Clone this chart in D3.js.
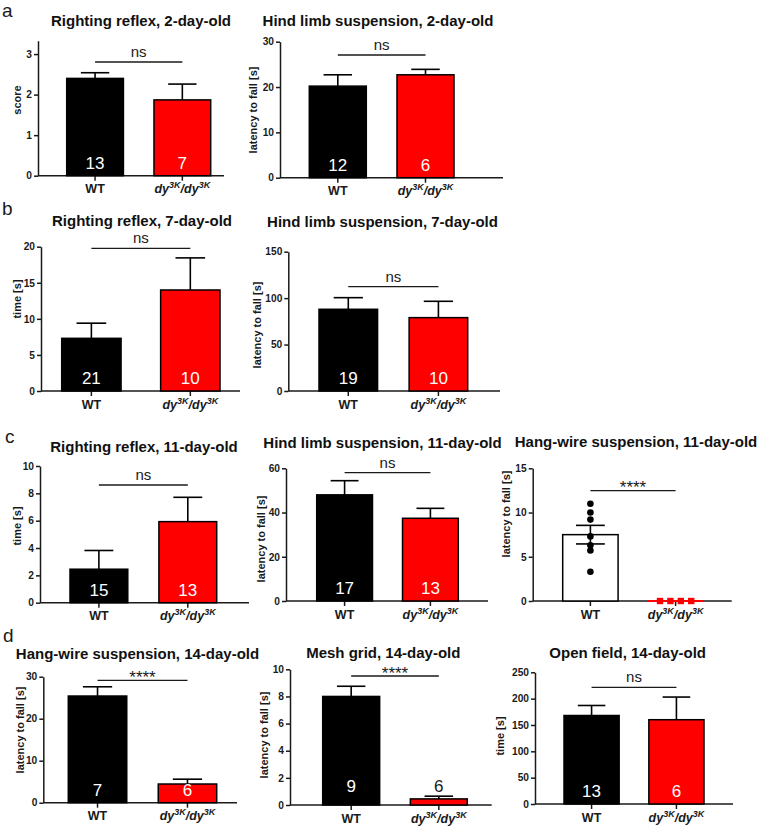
<!DOCTYPE html>
<html>
<head>
<meta charset="utf-8">
<script src="https://cdn.jsdelivr.net/npm/d3@7"></script>
<style>
  html, body { margin: 0; padding: 0; background: #fff; }
  svg { display: block; font-family: "Liberation Sans", Arial, sans-serif; }
</style>
</head>
<body>
<svg id="chart" width="758" height="828"></svg>
<script>
// ---------------- DATA ----------------
const categories = ["WT", "dy3K/dy3K"];
const titles = [
  "Righting reflex, 2-day-old",
  "Hind limb suspension, 2-day-old",
  "Righting reflex, 7-day-old",
  "Hind limb suspension, 7-day-old",
  "Righting reflex, 11-day-old",
  "Hind limb suspension, 11-day-old",
  "Hang-wire suspension, 11-day-old",
  "Hang-wire suspension, 14-day-old",
  "Mesh grid, 14-day-old",
  "Open field, 14-day-old"
];
const yLabels = ["score", "latency to fall [s]", "time [s]", "latency to fall [s]", "time [s]",
  "latency to fall [s]", "latency to fall [s]", "latency to fall [s]", "latency to fall [s]", "time [s]"];
const yMaxes = [3.33, 30, 20, 150, 10, 60, 15, 30, 10, 250];
const yTicks = [
  [0, 1, 2, 3], [0, 10, 20, 30], [0, 5, 10, 15, 20], [0, 50, 100, 150], [0, 2, 4, 6, 8, 10],
  [0, 20, 40, 60], [0, 5, 10, 15], [0, 10, 20, 30], [0, 2, 4, 6, 8, 10], [0, 50, 100, 150, 200, 250]
];
const wtMean = [2.4, 20.2, 7.3, 88, 2.45, 48, 7.5, 25.4, 8.0, 168];
const wtSem  = [0.14, 2.5, 2.1, 12.5, 1.37, 6.4, 1.05, 2.2, 0.75, 19];
const dyMean = [1.87, 22.7, 14.0, 79, 5.93, 37.4, 0, 4.45, 0.45, 160];
const dySem  = [0.39, 1.2, 4.45, 17.6, 1.78, 4.5, 0, 1.15, 0.2, 43];
const wtN = [13, 12, 21, 19, 15, 17, null, 7, 9, 13];
const dyN = [7, 6, 10, 10, 13, 13, null, 6, 6, 6];
const sigLabels = ["ns", "ns", "ns", "ns", "ns", "ns", "****", "****", "****", "ns"];
const hangWireWT11 = [11, 10, 9.2, 7.3, 6.3, 5.7, 3.3];
const hangWireDy11 = [0, 0, 0, 0];
const panelLetters = ["a", "b", "c", "d"];

// ---------------- LAYOUT ----------------
const layout = [
  {ax: 38,    axEnd: 224,   y0: 175.7, yTop: 40.7,  band: [66.7, 210.7], tx: 141,   ty: 26,  lx: 20.5,  ly: 100, sigY: 62},
  {ax: 280,   axEnd: 503,   y0: 177.7, yTop: 41.7,  band: [309.3, 454],  tx: 378,   ty: 26,  lx: 256.5, ly: 110, sigY: 55},
  {ax: 41,    axEnd: 240,   y0: 391,   yTop: 246.7, band: [61.7, 220],   tx: 142,   ty: 226, lx: 20.5,  ly: 299, sigY: 248.3, pi: 0.4},
  {ax: 288.3, axEnd: 500,   y0: 391,   yTop: 251.7, band: [319, 467.7],  tx: 382.5, ty: 227, lx: 261,   ly: 325, sigY: 286.7},
  {ax: 40,    axEnd: 249,   y0: 602.7, yTop: 466,   band: [70, 216.7],   tx: 144,   ty: 452, lx: 20.5,  ly: 526, sigY: 485},
  {ax: 286,   axEnd: 488,   y0: 601,   yTop: 468.3, band: [316.7, 458.3],tx: 382.5, ty: 448, lx: 265,   ly: 539, sigY: 472.7},
  {ax: 532.7, axEnd: 731.7, y0: 601,   yTop: 468.3, band: [562.7, 703.3],tx: 636,   ty: 447, lx: 510,   ly: 514, sigY: 490.7},
  {ax: 43.3,  axEnd: 237,   y0: 802.7, yTop: 676.7, band: [68.3, 216.7], tx: 137.5, ty: 659, lx: 24,    ly: 730, sigY: 680.3},
  {ax: 290,   axEnd: 491.7, y0: 805,   yTop: 669.3, band: [322.7, 467.3],tx: 383.3, ty: 658, lx: 268,   ly: 735, sigY: 676, nOff: 13},
  {ax: 535,   axEnd: 733,   y0: 804,   yTop: 672.3, band: [564, 704],    tx: 627.7, ty: 658, lx: 503.5, ly: 736, sigY: 687.3}
];
const letterPos = [[2, 17], [2, 215], [5, 443], [3, 642]];
const ink = "#1a1a1a";
const barColors = ["#000000", "#ff0000"];

const svg = d3.select("#chart");
svg.append("rect").attr("width", 758).attr("height", 828).attr("fill", "#fff");

// panel letters
panelLetters.forEach((l, i) => {
  svg.append("text").attr("x", letterPos[i][0]).attr("y", letterPos[i][1])
    .attr("font-size", 19).attr("fill", ink).text(l);
});

function catLabel(g, cx, y, cat) {
  const t = g.append("text").attr("x", cx).attr("y", y).attr("text-anchor", "middle")
    .attr("font-size", 12.5).attr("font-weight", "bold").attr("fill", ink);
  if (cat === "WT") { t.text("WT"); return; }
  t.attr("font-style", "italic");
  t.append("tspan").text("dy");
  t.append("tspan").attr("font-size", 9).attr("dy", -5).text("3K");
  t.append("tspan").attr("dy", 5).text("/dy");
  t.append("tspan").attr("font-size", 9).attr("dy", -5).text("3K");
}

titles.forEach((title, i) => {
  const c = layout[i];
  const g = svg.append("g");
  const x = d3.scaleBand().domain(categories).range(c.band).paddingInner(c.pi ?? 0.35).paddingOuter(0);
  const y = d3.scaleLinear().domain([0, yMaxes[i]]).range([c.y0, c.yTop]);
  const bw = x.bandwidth();
  const means = [wtMean[i], dyMean[i]];
  const sems = [wtSem[i], dySem[i]];
  const ns = [wtN[i], dyN[i]];
  const isScatter = (i === 6);

  // title
  g.append("text").attr("x", c.tx).attr("y", c.ty).attr("text-anchor", "middle")
    .attr("font-size", 15).attr("font-weight", "bold").attr("fill", "#111").text(title);

  // y label
  g.append("text").attr("transform", `translate(${c.lx},${c.ly}) rotate(-90)`)
    .attr("text-anchor", "middle").attr("font-size", 11).attr("font-weight", "bold")
    .attr("fill", ink).text(yLabels[i]);

  // axes (drawn first so marks sit on top)
  const ya = g.append("g").attr("transform", `translate(${c.ax},0)`)
    .call(d3.axisLeft(y).tickValues(yTicks[i]).tickSize(4).tickSizeOuter(0).tickPadding(2).tickFormat(d3.format("d")));
  ya.select(".domain").attr("stroke", ink).attr("stroke-width", 1.5);
  ya.selectAll(".tick line").attr("stroke", ink).attr("stroke-width", 1.5);
  ya.selectAll(".tick text").attr("font-size", 10.2).attr("font-weight", "bold").attr("fill", ink)
    .attr("font-family", "Liberation Sans, Arial, sans-serif");

  g.append("line").attr("x1", c.ax).attr("x2", c.axEnd).attr("y1", c.y0).attr("y2", c.y0)
    .attr("stroke", ink).attr("stroke-width", 1.5);
  categories.forEach(cat => {
    const cx = x(cat) + bw / 2;
    g.append("line").attr("x1", cx).attr("x2", cx).attr("y1", c.y0).attr("y2", c.y0 + 5)
      .attr("stroke", ink).attr("stroke-width", 1.5);
    catLabel(g, cx, c.y0 + 17.5, cat);
  });

  // bars
  categories.forEach((cat, j) => {
    if (isScatter && j === 1) {
      g.append("line").attr("x1", x(cat)).attr("x2", x(cat) + bw)
        .attr("y1", y(means[j])).attr("y2", y(means[j]))
        .attr("stroke", "#ff0000").attr("stroke-width", 2);
      return;
    }
    g.append("rect").attr("x", x(cat)).attr("y", y(means[j]))
      .attr("width", bw).attr("height", c.y0 - y(means[j]))
      .attr("fill", isScatter ? "#fff" : barColors[j])
      .attr("stroke", "#000").attr("stroke-width", 1.5);
  });

  // error bars
  categories.forEach((cat, j) => {
    const cx = x(cat) + bw / 2;
    if (isScatter && j === 1) return;
    const top = y(means[j] + sems[j]);
    const bot = isScatter ? y(means[j] - sems[j]) : y(means[j]);
    const cw = isScatter ? bw * 0.52 : bw * 0.5;
    g.append("line").attr("x1", cx).attr("x2", cx).attr("y1", bot).attr("y2", top)
      .attr("stroke", "#000").attr("stroke-width", 1.6);
    g.append("line").attr("x1", cx - cw / 2).attr("x2", cx + cw / 2).attr("y1", top).attr("y2", top)
      .attr("stroke", "#000").attr("stroke-width", 1.6);
    if (isScatter) {
      g.append("line").attr("x1", cx - cw / 2).attr("x2", cx + cw / 2).attr("y1", bot).attr("y2", bot)
        .attr("stroke", "#000").attr("stroke-width", 1.6);
    }
  });

  // scatter points for hang-wire 11-day-old
  if (isScatter) {
    const cxW = x(categories[0]) + bw / 2;
    g.selectAll("circle.wt").data(hangWireWT11).enter().append("circle")
      .attr("cx", cxW).attr("cy", d => y(d)).attr("r", 3.3).attr("fill", "#000");
    const cxD = x(categories[1]) + bw / 2;
    const sp = 10.4, n = hangWireDy11.length;
    g.selectAll("rect.dy").data(hangWireDy11).enter().append("rect")
      .attr("x", (d, k) => cxD + (k - (n - 1) / 2) * sp - 3.2)
      .attr("y", d => y(d) - 3.2).attr("width", 6.4).attr("height", 6.4).attr("fill", "#ff0000");
  }

  // n labels
  categories.forEach((cat, j) => {
    if (ns[j] == null) return;
    const cx = x(cat) + bw / 2;
    const by = c.y0 - (c.nOff ?? 7);
    const outside = (by - 12.2) < y(means[j]) - 3;
    g.append("text").attr("x", cx).attr("y", by).attr("text-anchor", "middle")
      .attr("font-size", 17).attr("fill", outside ? ink : "#fff").text(ns[j]);
  });

  // significance
  const x1 = x(categories[0]) + bw / 2, x2 = x(categories[1]) + bw / 2;
  g.append("line").attr("x1", x1).attr("x2", x2).attr("y1", c.sigY).attr("y2", c.sigY)
    .attr("stroke", ink).attr("stroke-width", 1.3);
  const isStar = sigLabels[i].startsWith("*");
  g.append("text").attr("x", (x1 + x2) / 2).attr("y", isStar ? c.sigY + 2.5 : c.sigY - 5)
    .attr("text-anchor", "middle").attr("font-size", isStar ? 17 : 15).attr("fill", ink)
    .text(sigLabels[i]);
});
</script>
</body>
</html>
